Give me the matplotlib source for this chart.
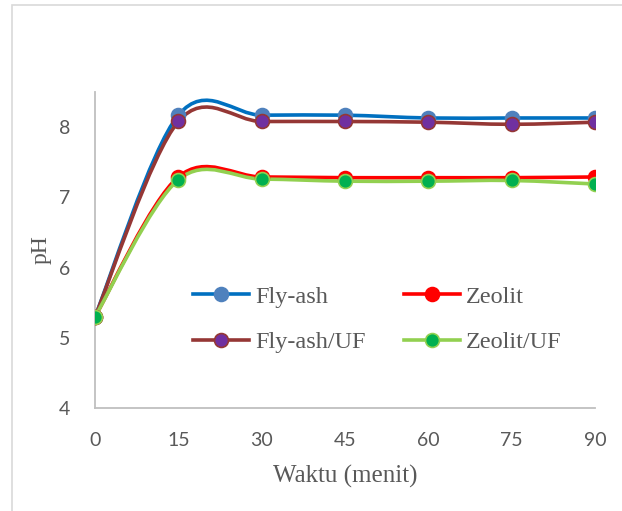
import matplotlib
matplotlib.use("Agg")
import matplotlib.pyplot as plt
from matplotlib.path import Path
from matplotlib.patches import PathPatch, Rectangle
from matplotlib.lines import Line2D

waktu = [0, 15, 30, 45, 60, 75, 90]
fly_ash = [5.3, 8.17, 8.17, 8.17, 8.13, 8.13, 8.13]
zeolit = [5.3, 7.29, 7.29, 7.28, 7.28, 7.28, 7.29]
fly_ash_uf = [5.3, 8.08, 8.08, 8.08, 8.07, 8.04, 8.07]
zeolit_uf = [5.3, 7.25, 7.26, 7.23, 7.23, 7.24, 7.19]

x_ticks = [0, 15, 30, 45, 60, 75, 90]
y_ticks = [4, 5, 6, 7, 8]

series = [
    ("Fly-ash", fly_ash, "#0070C0", "#4F81BD", "#4F81BD"),
    ("Zeolit", zeolit, "#FF0000", "#FF0000", "#FF0000"),
    ("Fly-ash/UF", fly_ash_uf, "#953735", "#7030A0", "#953735"),
    ("Zeolit/UF", zeolit_uf, "#92D050", "#00B050", "#92D050"),
]

fig = plt.figure(figsize=(6.22, 5.11), dpi=100)
fig.patches.append(Rectangle((12/622, -0.05), 1.2, 1 - 5/511 + 0.05,
                             transform=fig.transFigure, fill=False,
                             edgecolor="#D9D9D9", linewidth=1.2))
ax = fig.add_axes([95/622, 1 - 408/511, 500/622, 316/511])


def smooth_path(xs, ys):
    pts = list(zip(xs, ys))
    n = len(pts)
    verts = [pts[0]]
    codes = [Path.MOVETO]
    for i in range(n - 1):
        p0 = pts[i - 1] if i > 0 else pts[i]
        p1 = pts[i]
        p2 = pts[i + 1]
        p3 = pts[i + 2] if i + 2 < n else pts[i + 1]
        c1 = (p1[0] + (p2[0] - p0[0]) / 6, p1[1] + (p2[1] - p0[1]) / 6)
        c2 = (p2[0] - (p3[0] - p1[0]) / 6, p2[1] - (p3[1] - p1[1]) / 6)
        verts += [c1, c2, p2]
        codes += [Path.CURVE4] * 3
    return Path(verts, codes)


handles = {}
for name, ys, lc, mc, me in series:
    patch = PathPatch(smooth_path(waktu, ys), facecolor="none", edgecolor=lc,
                      linewidth=2.6, capstyle="round", joinstyle="round", zorder=2)
    ax.add_patch(patch)
    ax.plot(waktu, ys, linestyle="none", marker="o", markersize=10,
            markerfacecolor=mc, markeredgecolor=me, markeredgewidth=1.2, zorder=3)
    handles[name] = Line2D([], [], color=lc, linewidth=2.6, marker="o", markersize=10,
                           markerfacecolor=mc, markeredgecolor=me, markeredgewidth=1.2,
                           label=name)

ax.set_xlim(0, 90)
ax.set_ylim(4, 8.5)
ax.set_xticks(x_ticks)
ax.set_yticks(y_ticks)
for s in ["top", "right"]:
    ax.spines[s].set_visible(False)
for s in ["left", "bottom"]:
    ax.spines[s].set_color("#BFBFBF")
    ax.spines[s].set_linewidth(1.3)
ax.spines["left"].set_zorder(1)
ax.tick_params(length=0, labelsize=14, labelcolor="#595959")
ax.tick_params(axis="x", pad=17)
ax.tick_params(axis="y", pad=18)
for lab in ax.get_xticklabels() + ax.get_yticklabels():
    lab.set_fontfamily("Lato")

ax.set_xlabel("Waktu (menit)", family="Liberation Serif", fontsize=18,
              color="#595959", labelpad=12)
ax.set_ylabel("pH", family="Liberation Serif", fontsize=17, color="#595959",
              labelpad=5)

order = ["Fly-ash", "Fly-ash/UF", "Zeolit", "Zeolit/UF"]
leg = ax.legend(handles=[handles[k] for k in order], ncol=2, frameon=False, loc="center",
                bbox_to_anchor=(0.565, 0.28), prop={"family": "Liberation Serif", "size": 17.5},
                labelcolor="#595959", handlelength=2.3, columnspacing=1.6,
                labelspacing=0.95, handletextpad=0.25)

fig.savefig("out.png", dpi=100)
